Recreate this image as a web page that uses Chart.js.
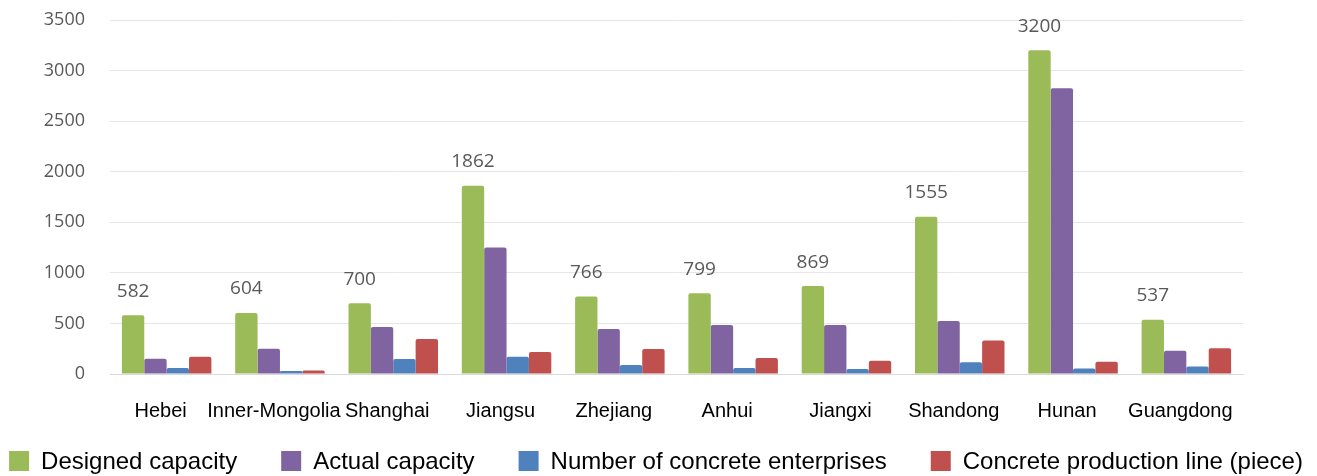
<!DOCTYPE html>
<html>
<head>
<meta charset="utf-8">
<script src="https://cdn.jsdelivr.net/npm/chart.js@4"></script>
<style>
  html, body { margin: 0; padding: 0; background: #fff; }
  #wrap { width: 1317px; height: 476px; }
</style>
</head>
<body>
<div id="wrap"><canvas id="capacityChart"></canvas></div>
<script>
// --- DATA ---
const provinces = ['Hebei', 'Inner-Mongolia', 'Shanghai', 'Jiangsu', 'Zhejiang', 'Anhui', 'Jiangxi', 'Shandong', 'Hunan', 'Guangdong'];
const designedCapacity = [582, 604, 700, 1862, 766, 799, 869, 1555, 3200, 537];
const actualCapacity = [150, 250, 465, 1250, 445, 485, 485, 525, 2825, 230];
const concreteEnterprises = [60, 30, 148, 170, 90, 60, 50, 115, 55, 75];
const productionLines = [170, 35, 345, 218, 247, 158, 130, 330, 120, 255];
const yTicks = [0, 500, 1000, 1500, 2000, 2500, 3000, 3500];

// --- VALUE LABELS ON THE DESIGNED CAPACITY BARS ---
const valueLabels = {
    id: 'valueLabels',
    afterDatasetsDraw(chart) {
        const ctx = chart.ctx;
        const meta = chart.getDatasetMeta(0);
        ctx.save();
        ctx.font = '19px "Open Sans"';
        ctx.fillStyle = '#595959';
        ctx.textAlign = 'center';
        ctx.textBaseline = 'middle';
        meta.data.forEach((bar, i) => {
            ctx.fillText(String(designedCapacity[i]), bar.x, bar.y - 24);
        });
        ctx.restore();
    }
};

// --- LEGEND ROW ALONG THE BOTTOM EDGE (one line, wide spacing) ---
const bottomLegend = {
    id: 'bottomLegend',
    afterDraw(chart) {
        const ctx = chart.ctx;
        const box = 20, gap = 12, spacing = 44, cy = 461;
        ctx.save();
        ctx.font = '24px "Liberation Sans", Arial';
        ctx.textBaseline = 'middle';
        const items = chart.data.datasets.map(ds => ({
            text: ds.label,
            color: ds.backgroundColor,
            w: box + gap + ctx.measureText(ds.label).width
        }));
        const total = items.reduce((s, it) => s + it.w, 0) + spacing * (items.length - 1);
        let x = 656 - total / 2;
        items.forEach(it => {
            ctx.fillStyle = it.color;
            ctx.fillRect(x, cy - box / 2, box, box);
            ctx.fillStyle = '#000';
            ctx.fillText(it.text, x + box + gap, cy + 1);
            x += it.w + spacing;
        });
        ctx.restore();
    }
};

const ctx = document.getElementById('capacityChart').getContext('2d');
new Chart(ctx, {
    type: 'bar',
    data: {
        labels: provinces,
        datasets: [
            { label: 'Designed capacity', data: designedCapacity, backgroundColor: '#9BBB59' },
            { label: 'Actual capacity', data: actualCapacity, backgroundColor: '#8064A2' },
            { label: 'Number of concrete enterprises', data: concreteEnterprises, backgroundColor: '#4F81BD' },
            { label: 'Concrete production line (piece)', data: productionLines, backgroundColor: '#C0504D' }
        ]
    },
    options: {
        responsive: true,
        maintainAspectRatio: false,
        animation: false,
        datasets: { bar: { categoryPercentage: 0.79, barPercentage: 1.0, borderRadius: 2 } },
        // room at the bottom for the legend row
        layout: { padding: { top: 0, right: 74, left: 0, bottom: 52 } },
        plugins: {
            tooltip: { enabled: false },
            legend: { display: false }
        },
        scales: {
            x: {
                afterFit: (scale) => { scale.height = 50; },
                grid: { display: false },
                border: { color: '#d9d9d9' },
                ticks: {
                    color: '#000',
                    font: { family: '"Liberation Sans", Arial', size: 20 },
                    padding: 17,
                    labelOffset: -6,
                    maxRotation: 0,
                    autoSkip: false
                }
            },
            y: {
                min: 0,
                max: 3500,
                afterFit: (scale) => {
                    scale.width = 110;
                    scale.paddingTop = 20;
                },
                afterBuildTicks: (scale) => { scale.ticks = yTicks.map(v => ({ value: v })); },
                grid: { color: '#e6e6e6', drawTicks: false },
                border: { display: false },
                ticks: {
                    color: '#595959',
                    font: { family: '"Open Sans"', size: 18 },
                    padding: 25,
                    callback: (v) => String(v)
                }
            }
        }
    },
    plugins: [valueLabels, bottomLegend]
});
</script>
</body>
</html>
